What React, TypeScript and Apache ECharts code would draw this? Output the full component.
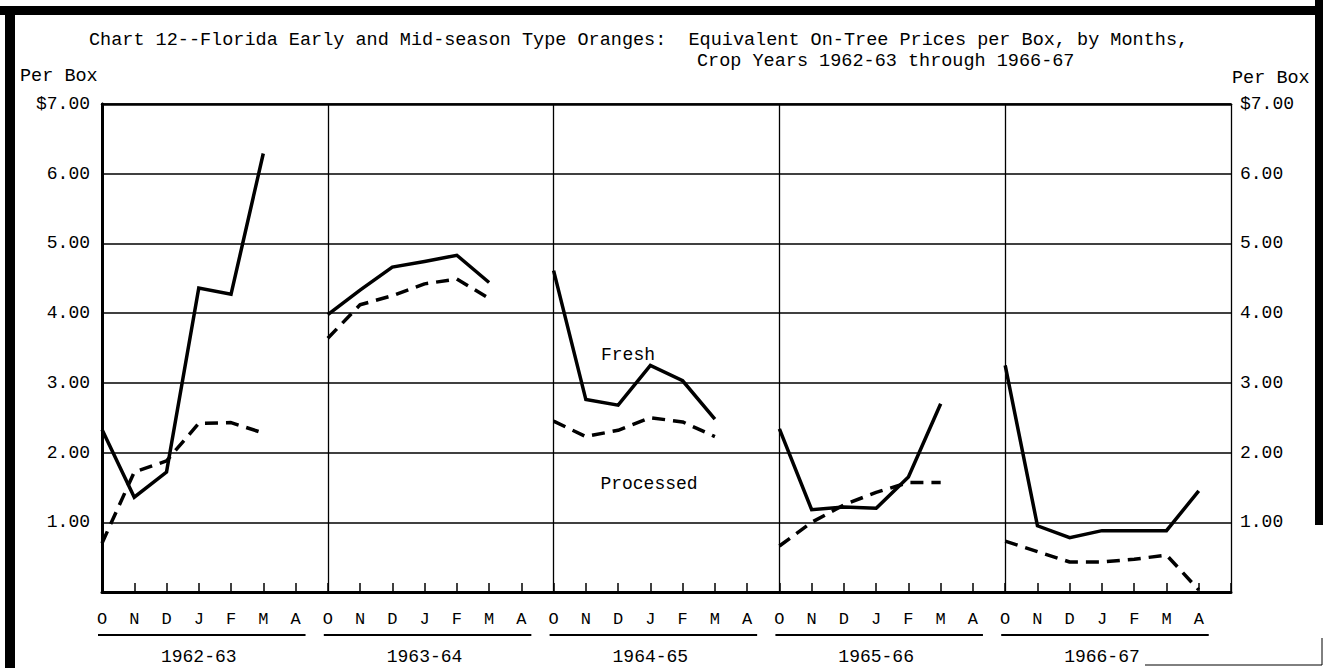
import { useEffect, useRef } from 'react';
import * as echarts from 'echarts';

const years = ['1962-63', '1963-64', '1964-65', '1965-66', '1966-67'];
const months = ['O', 'N', 'D', 'J', 'F', 'M', 'A'];
const yTickLabels = ['', '1.00', '2.00', '3.00', '4.00', '5.00', '6.00', '$7.00'];

// Equivalent on-tree prices per box, month index 0 = October
const fresh1962 = [2.33, 1.36, 1.72, 4.36, 4.27, 6.29];
const processed1962 = [0.7, 1.72, 1.88, 2.42, 2.43, 2.28];
const fresh1963 = [3.98, 4.33, 4.66, 4.74, 4.83, 4.44];
const processed1963 = [3.64, 4.12, 4.25, 4.42, 4.49, 4.21];
const fresh1964 = [4.61, 2.76, 2.68, 3.25, 3.03, 2.48];
const processed1964 = [2.45, 2.23, 2.32, 2.5, 2.44, 2.23];
const fresh1965 = [2.34, 1.18, 1.22, 1.2, 1.65, 2.7];
const processed1965 = [0.66, 1.0, 1.25, 1.43, 1.57, 1.57];
const fresh1966 = [3.25, 0.95, 0.78, 0.88, 0.88, 0.88, 1.45];
const processed1966 = [0.73, 0.58, 0.43, 0.43, 0.47, 0.53, 0.03];

const freshByYear = [fresh1962, fresh1963, fresh1964, fresh1965, fresh1966];
const processedByYear = [processed1962, processed1963, processed1964, processed1965, processed1966];

const FONT = '"Liberation Mono", "DejaVu Sans Mono", monospace';

export default function App() {
  const ref = useRef<HTMLDivElement>(null);
  useEffect(() => {
    document.body.style.margin = '0';
    const chart = echarts.init(ref.current!, null, { renderer: 'svg' });
    const toPoints = (vals: number[], k: number) => vals.map((v, i) => [k * 7 + i, v]);
    const series: any[] = [];
    years.forEach((_, k) => {
      series.push({
        type: 'line', name: 'Fresh', data: toPoints(freshByYear[k], k), symbol: 'none', silent: true,
        lineStyle: { color: '#000', width: 3.5, type: 'solid', cap: 'butt', join: 'miter' }, z: 5,
      });
      series.push({
        type: 'line', name: 'Processed', data: toPoints(processedByYear[k], k), symbol: 'none', silent: true,
        lineStyle: { color: '#000', width: 3.5, type: [13, 8], cap: 'butt' }, z: 5,
      });
    });
    const labelStyle = { fontFamily: FONT, fontSize: 18, color: '#000' };
    chart.setOption({
      animation: false,
      backgroundColor: '#fff',
      grid: { left: 102, right: 92, top: 104, bottom: 76 },
      xAxis: [
        {
          type: 'value', min: 0, max: 35, interval: 7, position: 'bottom',
          axisLine: { show: true, lineStyle: { color: '#000', width: 3 } },
          axisTick: { show: false }, axisLabel: { show: false },
          splitLine: { show: true, lineStyle: { color: '#000', width: 1.3 } },
        },
        {
          type: 'value', min: 0, max: 35, interval: 1, position: 'bottom',
          axisLine: { show: false },
          axisTick: { show: true, inside: true, length: 9, lineStyle: { color: '#000', width: 1.5 } },
          axisLabel: {
            ...labelStyle, fontSize: 17, margin: 19,
            formatter: (v: number) => { const r = Math.round(v); return r >= 35 ? '' : months[r % 7]; },
          },
          splitLine: { show: false },
        },
        {
          type: 'value', min: 0, max: 35, interval: 1, position: 'bottom',
          axisLine: { show: false }, axisTick: { show: false },
          axisLabel: {
            ...labelStyle, margin: 56,
            formatter: (v: number) => { const r = Math.round(v); return r % 7 === 3 ? years[(r - 3) / 7] : ''; },
          },
          splitLine: { show: false },
        },
        {
          type: 'value', min: 0, max: 35, position: 'top',
          axisLine: { show: true, lineStyle: { color: '#000', width: 2.5 } },
          axisTick: { show: false }, axisLabel: { show: false }, splitLine: { show: false },
        },
      ],
      yAxis: [
        {
          type: 'value', min: 0, max: 7, interval: 1, position: 'left',
          axisLine: { show: true, lineStyle: { color: '#000', width: 2.5 } },
          axisTick: { show: false },
          axisLabel: { ...labelStyle, margin: 12, formatter: (v: number) => yTickLabels[Math.round(v)] },
          splitLine: { show: true, lineStyle: { color: '#000', width: 1.5 } },
        },
        {
          type: 'value', min: 0, max: 7, interval: 1, position: 'right',
          axisLine: { show: true, lineStyle: { color: '#000', width: 3 } },
          axisTick: { show: false },
          axisLabel: { ...labelStyle, margin: 9, align: 'left', formatter: (v: number) => yTickLabels[Math.round(v)] },
          splitLine: { show: false },
        },
      ],
      series,
    });

    const underlines = years.map((_, k) => {
      const x1 = (chart.convertToPixel({ xAxisIndex: 0 }, k * 7) as number) - 4;
      const x2 = (chart.convertToPixel({ xAxisIndex: 0 }, k * 7 + 6) as number) + 10;
      return { type: 'line', shape: { x1, y1: 635, x2, y2: 635 }, style: { stroke: '#000', lineWidth: 2 }, silent: true };
    });
    const txt = (text: string, x: number, y: number, align = 'left', size = 18.5) => ({
      type: 'text', x, y, silent: true,
      style: { text, fontFamily: FONT, fontSize: size, fill: '#000', align, verticalAlign: 'middle' },
    });
    chart.setOption({
      graphic: [
        { type: 'rect', shape: { x: 0, y: 6, width: 1323, height: 9 }, style: { fill: '#000' }, silent: true },
        { type: 'rect', shape: { x: 5, y: 6, width: 10, height: 662 }, style: { fill: '#000' }, silent: true },
        { type: 'rect', shape: { x: 1315, y: 0, width: 8, height: 525 }, style: { fill: '#000' }, silent: true },
        { type: 'line', shape: { x1: 1145, y1: 665, x2: 1322, y2: 665 }, style: { stroke: '#000', lineWidth: 1 }, silent: true },
        { type: 'line', shape: { x1: 1322, y1: 638, x2: 1322, y2: 665 }, style: { stroke: '#000', lineWidth: 1 }, silent: true },
        txt('Chart 12--Florida Early and Mid-season Type Oranges:  Equivalent On-Tree Prices per Box, by Months,', 89, 40),
        txt('Crop Years 1962-63 through 1966-67', 697, 61),
        txt('Per Box', 20, 76),
        txt('Per Box', 1232, 78),
        txt('Fresh', 628, 355, 'center', 18),
        txt('Processed', 649, 484, 'center', 18),
        ...underlines,
      ],
    });
    return () => chart.dispose();
  }, []);
  return <div ref={ref} style={{ width: 1323, height: 668 }} />;
}
